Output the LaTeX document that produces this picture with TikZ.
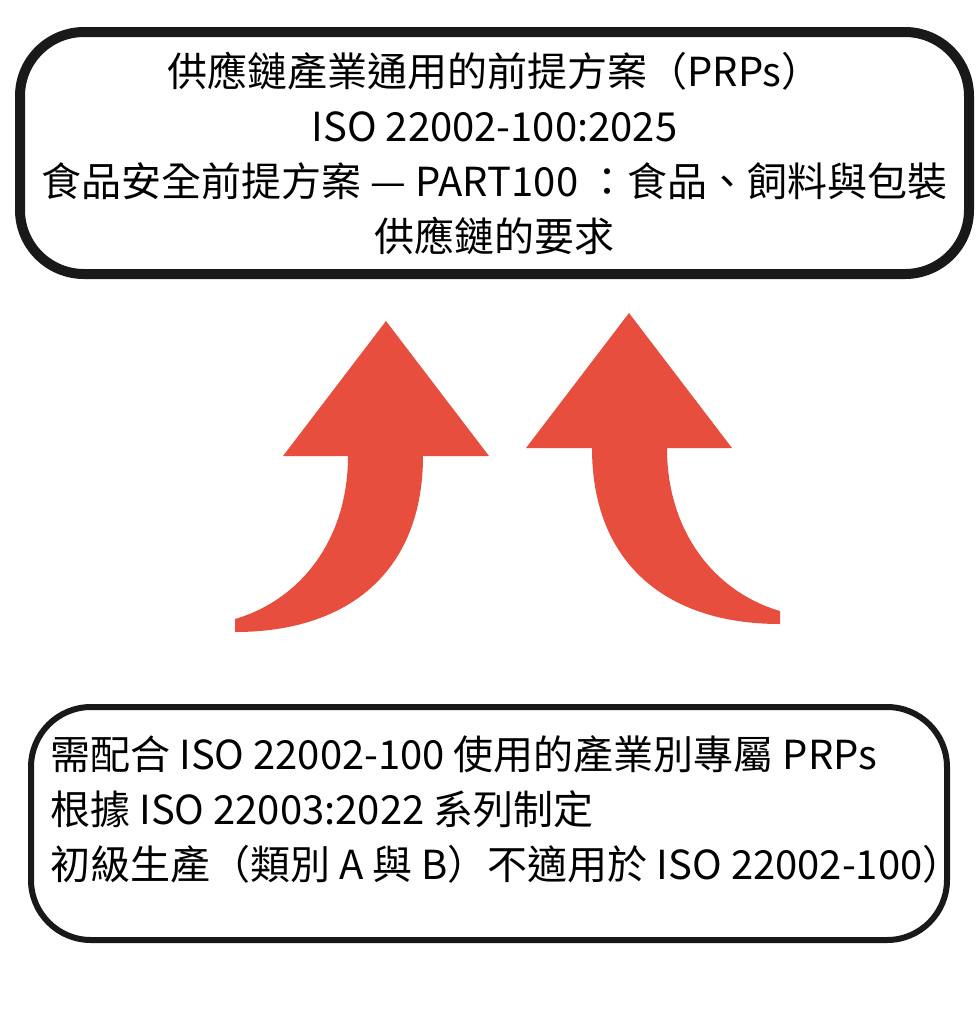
\documentclass[tikz,border=0pt]{standalone}
\usepackage{fontspec}
\setmainfont{Noto Sans CJK TC}
\usepackage{tikz}
\definecolor{arrowred}{RGB}{231,78,62}

\begin{document}
\begin{tikzpicture}[x=0.5pt,y=-0.5pt,
	every node/.style={font=\fontsize{20}{27.5}\selectfont,inner sep=0pt},
	topbox/.style={draw=black!90,line width=5pt,rounded corners=32pt,minimum width=474.5pt,minimum height=121pt,align=center},
	basebox/.style={draw=black!90,line width=3pt,rounded corners=30pt,minimum width=458pt,minimum height=116.5pt},
	bent/.style={fill=arrowred}]
			\useasboundingbox (0,0) rectangle (980,1009);
			\node[topbox] (prp) at (494.5,153) {供應鏈產業通用的前提方案（PRPs） \\ ISO 22002-100:2025 \\ 食品安全前提方案 — PART100 ：食品、飼料與包裝 \\ 供應鏈的要求};
			\node[basebox] (sector) at (489,823.5) {};
			\node[anchor=west,align=left] (sectortext) at (50,809) {需配合 ISO 22002-100 使用的產業別專屬 PRPs \\ 根據 ISO 22003:2022 系列制定 \\ 初級生產（類別 A 與 B）不適用於 ISO 22002-100）};

			\fill[bent] (386,321) -- (489,456) -- (423,456) .. controls (423,570) and (350,632) .. (235,632)
						-- (235,619) .. controls (300,600) and (348,540) .. (348,456) -- (283,456) -- cycle;
			\fill[bent] (629,313) -- (732,448) -- (667,448) .. controls (667,532) and (715,592) .. (780,611)
						-- (780,624) .. controls (665,624) and (592,562) .. (592,448) -- (526,448) -- cycle;
		\end{tikzpicture}
\end{document}
